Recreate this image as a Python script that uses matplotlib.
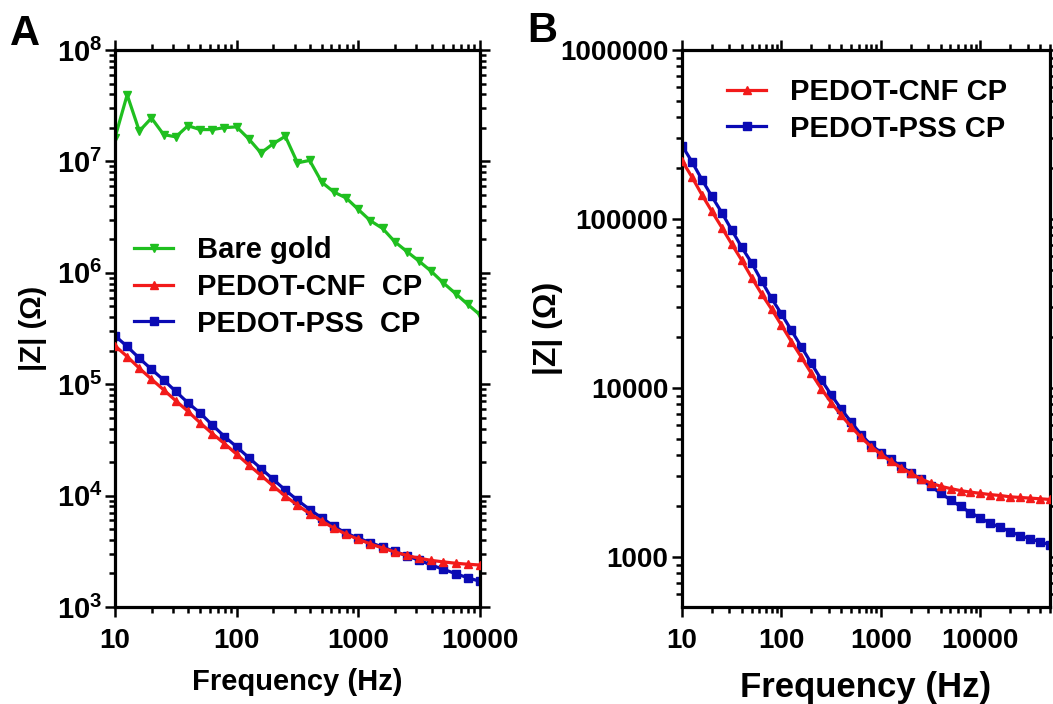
import matplotlib
matplotlib.use('Agg')
import matplotlib.pyplot as plt
import numpy as np
from matplotlib.ticker import LogLocator, NullFormatter

plt.rcParams['font.family'] = ['Liberation Sans', 'DejaVu Sans']
plt.rcParams['font.weight'] = 'bold'
plt.rcParams['axes.labelweight'] = 'bold'
plt.rcParams['mathtext.fontset'] = 'custom'
plt.rcParams['mathtext.rm'] = 'Liberation Sans:bold'
plt.rcParams['mathtext.bf'] = 'Liberation Sans:bold'
plt.rcParams['mathtext.it'] = 'Liberation Sans:bold:italic'

# frequencies (Hz), 10 points per decade
freq = [10, 12.59, 15.85, 19.95, 25.12, 31.62, 39.81, 50.12, 63.10, 79.43,
        100, 125.9, 158.5, 199.5, 251.2, 316.2, 398.1, 501.2, 631.0, 794.3,
        1000, 1259, 1585, 1995, 2512, 3162, 3981, 5012, 6310, 7943,
        10000, 12589, 15849, 19953, 25119, 31623, 39811, 50119]

# |Z| (ohm), bare gold measured only up to 10 kHz
z_gold = [1.63e7, 3.96e7, 1.87e7, 2.45e7, 1.74e7, 1.66e7, 2.09e7, 1.93e7, 1.93e7, 2.01e7,
          2.04e7, 1.59e7, 1.19e7, 1.44e7, 1.68e7, 9.7e6, 1.02e7, 6.5e6, 5.3e6, 4.7e6,
          3.7e6, 2.93e6, 2.5e6, 1.9e6, 1.55e6, 1.27e6, 1.03e6, 8.1e5, 6.5e5, 5.2e5,
          4.2e5]

z_cnf = [2.21e5, 1.77e5, 1.39e5, 1.11e5, 8.9e4, 7.1e4, 5.7e4, 4.5e4, 3.6e4, 2.93e4,
         2.35e4, 1.88e4, 1.52e4, 1.22e4, 9.9e3, 8.2e3, 6.9e3, 5.9e3, 5.1e3, 4.5e3,
         4.05e3, 3.68e3, 3.38e3, 3.12e3, 2.9e3, 2.74e3, 2.62e3, 2.54e3, 2.47e3, 2.42e3,
         2.38e3, 2.34e3, 2.31e3, 2.27e3, 2.25e3, 2.23e3, 2.21e3, 2.19e3]

z_pss = [2.72e5, 2.18e5, 1.71e5, 1.36e5, 1.09e5, 8.6e4, 6.8e4, 5.5e4, 4.3e4, 3.39e4,
         2.74e4, 2.19e4, 1.75e4, 1.40e4, 1.12e4, 9.1e3, 7.5e3, 6.3e3, 5.3e3, 4.6e3,
         4.15e3, 3.78e3, 3.45e3, 3.15e3, 2.88e3, 2.63e3, 2.38e3, 2.18e3, 1.99e3, 1.83e3,
         1.70e3, 1.58e3, 1.50e3, 1.41e3, 1.34e3, 1.28e3, 1.23e3, 1.18e3]

n_a = len(z_gold)

green = '#1fbf1f'
red = '#f21a1a'
blue = '#0a0ab4'

x_ticks = [10, 100, 1000, 10000]
x_labels = ['10', '100', '1000', '10000']
ya_ticks = [1e3, 1e4, 1e5, 1e6, 1e7, 1e8]
ya_labels = [r'$\mathbf{10^{%d}}$' % e for e in range(3, 9)]
yb_ticks = [1e3, 1e4, 1e5, 1e6]
yb_labels = ['1000', '10000', '100000', '1000000']


def style_axes(ax):
    ax.set_xscale('log')
    ax.set_yscale('log')
    for sp in ax.spines.values():
        sp.set_linewidth(2.3)
    ax.tick_params(which='both', direction='out', top=True, right=True, width=1.8)
    ax.tick_params(which='major', length=7)
    ax.tick_params(which='minor', length=4)
    for axis in (ax.xaxis, ax.yaxis):
        axis.set_minor_locator(LogLocator(base=10, subs=np.arange(2, 10), numticks=100))
        axis.set_minor_formatter(NullFormatter())


fig = plt.figure(figsize=(10.53, 7.04), dpi=100)
ax_a = fig.add_axes([0.1092, 0.1378, 0.3466, 0.7912])
ax_b = fig.add_axes([0.6477, 0.1378, 0.3495, 0.7912])

# panel A
style_axes(ax_a)
ax_a.plot(freq[:n_a], z_gold, color=green, marker='v', ms=5.5, lw=2.3, label='Bare gold')
ax_a.plot(freq[:n_a], z_cnf[:n_a], color=red, marker='^', ms=5.5, lw=2.3,
          label='PEDOT-CNF  CP', zorder=3)
ax_a.plot(freq[:n_a], z_pss[:n_a], color=blue, marker='s', ms=5.5, lw=2.3,
          label='PEDOT-PSS  CP', zorder=2)
ax_a.set_xlim(10, 10000)
ax_a.set_ylim(1e3, 1e8)
ax_a.set_xticks(x_ticks, labels=x_labels)
ax_a.set_yticks(ya_ticks, labels=ya_labels)
ax_a.tick_params(axis='x', labelsize=20, pad=8)
ax_a.tick_params(axis='y', labelsize=21, pad=2)
ax_a.set_xlabel('Frequency (Hz)', fontsize=21, fontweight='bold')
ax_a.set_ylabel('|Z| (Ω)', fontsize=21, fontweight='bold')
ax_a.xaxis.set_label_coords(0.5, -0.1095)
ax_a.yaxis.set_label_coords(-0.186, 0.5)
ax_a.legend(loc='upper left', bbox_to_anchor=(0.052, 0.666), frameon=False,
            borderpad=0, borderaxespad=0, handlelength=1.35, handletextpad=0.8,
            labelspacing=0.3, fontsize=21)

# panel B
style_axes(ax_b)
ax_b.plot(freq, z_cnf, color=red, marker='^', ms=5.5, lw=2.3, label='PEDOT-CNF CP', zorder=3)
ax_b.plot(freq, z_pss, color=blue, marker='s', ms=5.5, lw=2.3, label='PEDOT-PSS CP', zorder=2)
ax_b.set_xlim(10, 50119)
ax_b.set_ylim(506, 1e6)
ax_b.set_xticks(x_ticks, labels=x_labels)
ax_b.set_yticks(yb_ticks, labels=yb_labels)
ax_b.tick_params(axis='x', labelsize=20, pad=8)
ax_b.tick_params(axis='y', labelsize=20, pad=3)
ax_b.set_xlabel('Frequency (Hz)', fontsize=25, fontweight='bold')
ax_b.set_ylabel('|Z| (Ω)', fontsize=23, fontweight='bold')
ax_b.xaxis.set_label_coords(0.5, -0.115)
ax_b.yaxis.set_label_coords(-0.323, 0.5)
ax_b.legend(loc='upper left', bbox_to_anchor=(0.122, 0.95), frameon=False,
            borderpad=0, borderaxespad=0, handlelength=1.35, handletextpad=0.8,
            labelspacing=0.3, fontsize=21)

fig.text(0.0095, 0.936, 'A', fontsize=30, fontweight='bold', va='baseline')
fig.text(0.5005, 0.940, 'B', fontsize=30, fontweight='bold', va='baseline')

fig.savefig('out.png', dpi=100)
